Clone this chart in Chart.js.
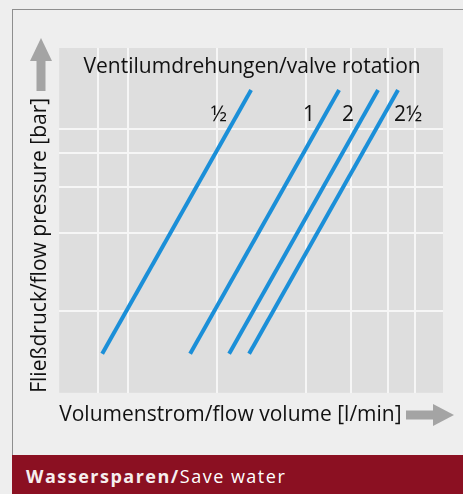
<!DOCTYPE html>
<html>
<head>
<meta charset="utf-8">
<script src="https://cdn.jsdelivr.net/npm/chart.js@4.4.1/dist/chart.umd.min.js"></script>
<style>
  html, body { margin: 0; padding: 0; background: #eeeeee; }
  #wrap { position: relative; width: 463px; height: 494px; overflow: hidden; }
  #frame { position: absolute; left: 12px; top: 9px; right: 0; bottom: 0;
           border-left: 1px solid #8e8e8e; border-top: 1px solid #8e8e8e; }
  #chart { position: absolute; left: 0; top: 0; }
  #banner { position: absolute; left: 12px; top: 455px; width: 451px; height: 39px;
            background: #8b1022; color: #fff; font-family: 'Open Sans', sans-serif;
            font-size: 18px; line-height: 39px; padding-left: 14px; padding-top: 2px;
            box-sizing: border-box; letter-spacing: 1.5px; white-space: nowrap; }
  #banner b { font-weight: 700; color: #f6eeee; }
</style>
</head>
<body>
<div id="wrap">
  <div id="frame"></div>
  <canvas id="chart" width="463" height="494"></canvas>
  <div id="banner"><b>Wassersparen/</b>Save water</div>
</div>
<script>
// Daten: Ventilumdrehungen (Linien), Volumenstrom / Fließdruck
const rotations = ['½', '1', '2', '2½'];
const flowLow = [4.3, 13.1, 17.0, 19.0];
const flowHigh = [19.2, 28.0, 31.9, 33.9];
const pressureEnds = [3.9, 30.3];

// Gitterlinien (ohne Beschriftung)
const gridFlow = [3.93, 6.93, 15.75, 24.65, 29.15, 32.87, 35.6];
const gridPressure = [8.23, 15.97, 20.57, 23.97, 26.4];

const blau = '#1b8fd8';
const pfeilGrau = '#a4a4a4';
const fontFamily = "'Open Sans', sans-serif";

Chart.defaults.font.family = fontFamily;

const datasets = rotations.map((r, i) => ({
    label: r,
    data: [
        { x: flowLow[i], y: pressureEnds[0] },
        { x: flowHigh[i], y: pressureEnds[1] }
    ],
    showLine: true,
    borderColor: blau,
    borderWidth: 4,
    borderCapStyle: 'butt',
    pointRadius: 0,
    fill: false
}));

// Hintergrund der Zeichenfläche
const plotBg = {
    id: 'plotBg',
    beforeDraw(chart) {
        const { ctx, chartArea: a } = chart;
        ctx.save();
        ctx.fillStyle = '#dedede';
        ctx.fillRect(a.left, a.top, a.right - a.left, a.bottom - a.top);
        ctx.restore();
    }
};

// Überschrift innen + Beschriftung der Linien
const labels = {
    id: 'labels',
    afterDatasetsDraw(chart) {
        const { ctx, chartArea: a } = chart;
        ctx.save();
        ctx.fillStyle = '#111';
        ctx.font = '21px ' + fontFamily;
        ctx.textBaseline = 'middle';
        ctx.textAlign = 'center';
        ctx.fillText('Ventilumdrehungen/valve rotation', (a.left + a.right) / 2 + 1, 67);

        const yLab = 115;
        chart.data.datasets.forEach((ds, i) => {
            const pts = chart.getDatasetMeta(i).data;
            const p0 = pts[0], p1 = pts[1];
            const t = (yLab - p0.y) / (p1.y - p0.y);
            const xl = p0.x + t * (p1.x - p0.x);
            const last = i === chart.data.datasets.length - 1;
            ctx.textAlign = last ? 'left' : 'right';
            ctx.fillText(ds.label, last ? xl + 10 : xl - 10, yLab);
        });
        ctx.restore();
    }
};

// Pfeile an den Achsentiteln
const pfeile = {
    id: 'pfeile',
    afterDraw(chart) {
        const { ctx, chartArea: a } = chart;
        ctx.save();
        ctx.fillStyle = pfeilGrau;
        // nach oben: Schaft + Spitze
        const cx = 41, tip = a.top - 10;
        ctx.fillRect(cx - 4.5, tip + 22, 9, 31);
        ctx.beginPath();
        ctx.moveTo(cx, tip);
        ctx.lineTo(cx + 11, tip + 23);
        ctx.lineTo(cx - 11, tip + 23);
        ctx.closePath();
        ctx.fill();
        // nach rechts: Schaft + Spitze
        const cy = 415, tx = 454;
        ctx.fillRect(406, cy - 4.5, tx - 20 - 406, 9);
        ctx.beginPath();
        ctx.moveTo(tx, cy);
        ctx.lineTo(tx - 21, cy - 11);
        ctx.lineTo(tx - 21, cy + 11);
        ctx.closePath();
        ctx.fill();
        ctx.restore();
    }
};

new Chart(document.getElementById('chart'), {
    type: 'scatter',
    data: { datasets },
    options: {
        responsive: false,
        animation: false,
        layout: { padding: { top: 48, right: 20, left: 27, bottom: 66 } },
        plugins: {
            legend: { display: false },
            tooltip: { enabled: false }
        },
        scales: {
            x: {
                min: 0,
                max: 38.4,
                afterBuildTicks: s => { s.ticks = gridFlow.map(v => ({ value: v })); },
                ticks: { display: false },
                grid: { color: '#f6f6f6', lineWidth: 2, drawTicks: false },
                border: { display: false },
                title: {
                    display: true,
                    text: 'Volumenstrom/flow volume [l/min]',
                    align: 'start',
                    color: '#111',
                    font: { size: 21, lineHeight: 1.2 },
                    padding: { top: 10, bottom: 0 }
                }
            },
            y: {
                min: 0,
                max: 34.5,
                afterBuildTicks: s => { s.ticks = gridPressure.map(v => ({ value: v })); },
                ticks: { display: false },
                grid: { color: '#f6f6f6', lineWidth: 2, drawTicks: false },
                border: { display: false },
                title: {
                    display: true,
                    text: 'Fließdruck/flow pressure [bar]',
                    align: 'start',
                    color: '#111',
                    font: { size: 21, lineHeight: 1.2 },
                    padding: { top: 0, bottom: 7 }
                }
            }
        }
    },
    plugins: [plotBg, labels, pfeile]
});
</script>
</body>
</html>
